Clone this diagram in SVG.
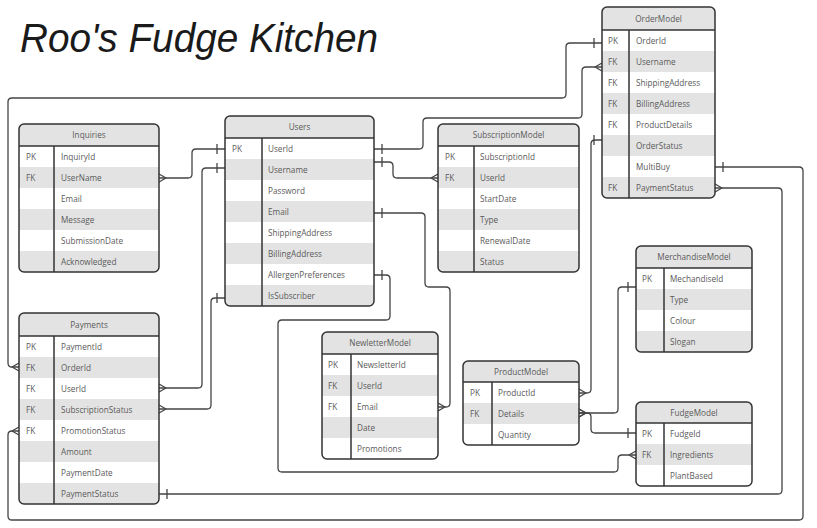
<svg xmlns="http://www.w3.org/2000/svg" width="817" height="528" viewBox="0 0 817 528">
<style>
.tb{fill:#fff;stroke:none}
.sh{fill:#e3e3e3}
.bd{fill:none;stroke:#333;stroke-width:1.5}
.ln{stroke:#333;stroke-width:1.5}
.t{font-family:"Open Sans","Noto Sans",sans-serif;font-size:8.2px;fill:#5a5a5a}
.h{font-family:"Open Sans","Noto Sans",sans-serif;font-size:8.2px;fill:#5a5a5a;text-anchor:middle}
.c{fill:none;stroke:#444;stroke-width:1.3}
.title{font-family:"Liberation Sans",sans-serif;font-style:italic;font-size:40px;fill:#1a1a1a}
</style>
<defs>
<marker id="one" viewBox="-12 -7 14 14" refX="0" refY="0" markerWidth="14" markerHeight="14" markerUnits="userSpaceOnUse" orient="auto-start-reverse">
<line x1="-8" y1="-5" x2="-8" y2="5" stroke="#444" stroke-width="1.3"/>
</marker>
<marker id="many" viewBox="-12 -7 14 14" refX="0" refY="0" markerWidth="14" markerHeight="14" markerUnits="userSpaceOnUse" orient="auto-start-reverse">
<path d="M-7,0 L0,-4 M-7,0 L0,4" fill="none" stroke="#444" stroke-width="1.3"/>
</marker>
<clipPath id="cInq"><rect x="19" y="124" width="140" height="148" rx="5"/></clipPath>
<clipPath id="cUsr"><rect x="225" y="116" width="149" height="190" rx="5"/></clipPath>
<clipPath id="cSub"><rect x="438" y="124" width="141" height="148" rx="5"/></clipPath>
<clipPath id="cOrd"><rect x="602" y="7" width="113" height="191" rx="5"/></clipPath>
<clipPath id="cPay"><rect x="19" y="313" width="140" height="191" rx="5"/></clipPath>
<clipPath id="cNew"><rect x="322" y="332" width="116" height="127" rx="5"/></clipPath>
<clipPath id="cPro"><rect x="463" y="361" width="116" height="84" rx="5"/></clipPath>
<clipPath id="cMer"><rect x="636" y="246" width="116" height="106" rx="5"/></clipPath>
<clipPath id="cFud"><rect x="636" y="402" width="116" height="84" rx="5"/></clipPath>
</defs>

<text class="title" x="20" y="52" textLength="358" lengthAdjust="spacingAndGlyphs">Roo's Fudge Kitchen</text>

<g id="connectors">
<path class="c" marker-start="url(#many)" marker-end="url(#one)" d="M159,178 H188 Q192,178 192,174 V153 Q192,149 196,149 H225"/>
<path class="c" marker-start="url(#one)" marker-end="url(#many)" d="M225,168 H206 Q202,168 202,172 V384 Q202,388 198,388 H159"/>
<path class="c" marker-start="url(#one)" marker-end="url(#many)" d="M225,298 H215 Q211,298 211,302 V405 Q211,409 207,409 H159"/>
<path class="c" marker-start="url(#one)" marker-end="url(#many)" d="M374,149 H419 Q423,149 423,145 V122 Q423,118 427,118 H578 Q582,118 582,114 V71 Q582,67 586,67 H602"/>
<path class="c" marker-start="url(#one)" marker-end="url(#many)" d="M374,162 H389 Q393,162 393,166 V174 Q393,178 397,178 H438"/>
<path class="c" marker-start="url(#one)" marker-end="url(#many)" d="M374,213 H421 Q425,213 425,217 V283 Q425,287 429,287 H446 Q450,287 450,291 V403 Q450,407 446,407 H438"/>
<path class="c" marker-start="url(#one)" marker-end="url(#many)" d="M374,275 H386 Q390,275 390,279 V316 Q390,320 386,320 H282 Q278,320 278,324 V468 Q278,472 282,472 H614 Q618,472 618,468 V459 Q618,455 622,455 H636"/>
<path class="c" marker-start="url(#one)" marker-end="url(#many)" d="M159,494 H778 Q782,494 782,490 V192 Q782,188 778,188 H715"/>
<path class="c" marker-start="url(#one)" marker-end="url(#many)" d="M715,167 H799 Q803,167 803,171 V516 Q803,520 799,520 H12 Q8,520 8,516 V435 Q8,431 12,431 H19"/>
<path class="c" marker-start="url(#many)" marker-end="url(#one)" d="M19,367 H12 Q8,367 8,363 V102 Q8,98 12,98 H562 Q566,98 566,94 V47 Q566,43 570,43 H602"/>
<path class="c" marker-start="url(#many)" marker-end="url(#one)" d="M579,393 H587 Q591,393 591,389 V144 Q591,140 595,140 H602"/>
<path class="c" marker-start="url(#many)" marker-end="url(#one)" d="M579,413 H614 Q618,413 618,409 V291 Q618,287 622,287 H636"/>
<path class="c" marker-start="url(#many)" marker-end="url(#one)" d="M579,413 H587 Q591,413 591,417 V429 Q591,433 595,433 H636"/>
</g>

<g id="inquiries">
<rect class="tb" x="19" y="124" width="140" height="148" rx="5"/>
<g clip-path="url(#cInq)">
<rect class="sh" x="19" y="124" width="140" height="22"/>
<rect class="sh" x="19" y="167" width="140" height="21"/>
<rect class="sh" x="19" y="209" width="140" height="21"/>
<rect class="sh" x="19" y="251" width="140" height="21"/>
</g>
<line class="ln" x1="19" y1="146" x2="159" y2="146"/>
<line class="ln" x1="54" y1="146" x2="54" y2="272"/>
<rect class="bd" x="19" y="124" width="140" height="148" rx="5"/>
<text class="h" x="89" y="138">Inquiries</text>
<text class="t" x="26" y="159.5">PK</text><text class="t" x="61" y="159.5">InquiryId</text>
<text class="t" x="26" y="180.5">FK</text><text class="t" x="61" y="180.5">UserName</text>
<text class="t" x="61" y="201.5">Email</text>
<text class="t" x="61" y="222.5">Message</text>
<text class="t" x="61" y="243.5">SubmissionDate</text>
<text class="t" x="61" y="264.5">Acknowledged</text>
</g>

<g id="users">
<rect class="tb" x="225" y="116" width="149" height="190" rx="5"/>
<g clip-path="url(#cUsr)">
<rect class="sh" x="225" y="116" width="149" height="22"/>
<rect class="sh" x="225" y="159" width="149" height="21"/>
<rect class="sh" x="225" y="201" width="149" height="21"/>
<rect class="sh" x="225" y="243" width="149" height="21"/>
<rect class="sh" x="225" y="285" width="149" height="21"/>
</g>
<line class="ln" x1="225" y1="138" x2="374" y2="138"/>
<line class="ln" x1="262" y1="138" x2="262" y2="306"/>
<rect class="bd" x="225" y="116" width="149" height="190" rx="5"/>
<text class="h" x="299.5" y="130">Users</text>
<text class="t" x="232" y="151.5">PK</text><text class="t" x="268" y="151.5">UserId</text>
<text class="t" x="268" y="172.5">Username</text>
<text class="t" x="268" y="193.5">Password</text>
<text class="t" x="268" y="214.5">Email</text>
<text class="t" x="268" y="235.5">ShippingAddress</text>
<text class="t" x="268" y="256.5">BillingAddress</text>
<text class="t" x="268" y="277.5">AllergenPreferences</text>
<text class="t" x="268" y="298.5">IsSubscriber</text>
</g>

<g id="subscriptionmodel">
<rect class="tb" x="438" y="124" width="141" height="148" rx="5"/>
<g clip-path="url(#cSub)">
<rect class="sh" x="438" y="124" width="141" height="22"/>
<rect class="sh" x="438" y="167" width="141" height="21"/>
<rect class="sh" x="438" y="209" width="141" height="21"/>
<rect class="sh" x="438" y="251" width="141" height="21"/>
</g>
<line class="ln" x1="438" y1="146" x2="579" y2="146"/>
<line class="ln" x1="474" y1="146" x2="474" y2="272"/>
<rect class="bd" x="438" y="124" width="141" height="148" rx="5"/>
<text class="h" x="508.5" y="138">SubscriptionModel</text>
<text class="t" x="445" y="159.5">PK</text><text class="t" x="480" y="159.5">SubscriptionId</text>
<text class="t" x="445" y="180.5">FK</text><text class="t" x="480" y="180.5">UserId</text>
<text class="t" x="480" y="201.5">StartDate</text>
<text class="t" x="480" y="222.5">Type</text>
<text class="t" x="480" y="243.5">RenewalDate</text>
<text class="t" x="480" y="264.5">Status</text>
</g>

<g id="ordermodel">
<rect class="tb" x="602" y="7" width="113" height="191" rx="5"/>
<g clip-path="url(#cOrd)">
<rect class="sh" x="602" y="7" width="113" height="23"/>
<rect class="sh" x="602" y="51" width="113" height="21"/>
<rect class="sh" x="602" y="93" width="113" height="21"/>
<rect class="sh" x="602" y="135" width="113" height="21"/>
<rect class="sh" x="602" y="177" width="113" height="21"/>
</g>
<line class="ln" x1="602" y1="30" x2="715" y2="30"/>
<line class="ln" x1="629" y1="30" x2="629" y2="198"/>
<rect class="bd" x="602" y="7" width="113" height="191" rx="5"/>
<text class="h" x="658.5" y="21.5">OrderModel</text>
<text class="t" x="608" y="43.5">PK</text><text class="t" x="636" y="43.5">OrderId</text>
<text class="t" x="608" y="64.5">FK</text><text class="t" x="636" y="64.5">Username</text>
<text class="t" x="608" y="85.5">FK</text><text class="t" x="636" y="85.5">ShippingAddress</text>
<text class="t" x="608" y="106.5">FK</text><text class="t" x="636" y="106.5">BillingAddress</text>
<text class="t" x="608" y="127.5">FK</text><text class="t" x="636" y="127.5">ProductDetails</text>
<text class="t" x="636" y="148.5">OrderStatus</text>
<text class="t" x="636" y="169.5">MultiBuy</text>
<text class="t" x="608" y="190.5">FK</text><text class="t" x="636" y="190.5">PaymentStatus</text>
</g>

<g id="payments">
<rect class="tb" x="19" y="313" width="140" height="191" rx="5"/>
<g clip-path="url(#cPay)">
<rect class="sh" x="19" y="313" width="140" height="23"/>
<rect class="sh" x="19" y="357" width="140" height="21"/>
<rect class="sh" x="19" y="399" width="140" height="21"/>
<rect class="sh" x="19" y="441" width="140" height="21"/>
<rect class="sh" x="19" y="483" width="140" height="21"/>
</g>
<line class="ln" x1="19" y1="336" x2="159" y2="336"/>
<line class="ln" x1="54" y1="336" x2="54" y2="504"/>
<rect class="bd" x="19" y="313" width="140" height="191" rx="5"/>
<text class="h" x="89" y="327.5">Payments</text>
<text class="t" x="26" y="349.5">PK</text><text class="t" x="61" y="349.5">PaymentId</text>
<text class="t" x="26" y="370.5">FK</text><text class="t" x="61" y="370.5">OrderId</text>
<text class="t" x="26" y="391.5">FK</text><text class="t" x="61" y="391.5">UserId</text>
<text class="t" x="26" y="412.5">FK</text><text class="t" x="61" y="412.5">SubscriptionStatus</text>
<text class="t" x="26" y="433.5">FK</text><text class="t" x="61" y="433.5">PromotionStatus</text>
<text class="t" x="61" y="454.5">Amount</text>
<text class="t" x="61" y="475.5">PaymentDate</text>
<text class="t" x="61" y="496.5">PaymentStatus</text>
</g>

<g id="newlettermodel">
<rect class="tb" x="322" y="332" width="116" height="127" rx="5"/>
<g clip-path="url(#cNew)">
<rect class="sh" x="322" y="332" width="116" height="22"/>
<rect class="sh" x="322" y="375" width="116" height="21"/>
<rect class="sh" x="322" y="417" width="116" height="21"/>
</g>
<line class="ln" x1="322" y1="354" x2="438" y2="354"/>
<line class="ln" x1="351" y1="354" x2="351" y2="459"/>
<rect class="bd" x="322" y="332" width="116" height="127" rx="5"/>
<text class="h" x="380" y="346">NewletterModel</text>
<text class="t" x="328" y="367.5">PK</text><text class="t" x="357" y="367.5">NewsletterId</text>
<text class="t" x="328" y="388.5">FK</text><text class="t" x="357" y="388.5">UserId</text>
<text class="t" x="328" y="409.5">FK</text><text class="t" x="357" y="409.5">Email</text>
<text class="t" x="357" y="430.5">Date</text>
<text class="t" x="357" y="451.5">Promotions</text>
</g>

<g id="productmodel">
<rect class="tb" x="463" y="361" width="116" height="84" rx="5"/>
<g clip-path="url(#cPro)">
<rect class="sh" x="463" y="361" width="116" height="21"/>
<rect class="sh" x="463" y="403" width="116" height="21"/>
</g>
<line class="ln" x1="463" y1="382" x2="579" y2="382"/>
<line class="ln" x1="492" y1="382" x2="492" y2="445"/>
<rect class="bd" x="463" y="361" width="116" height="84" rx="5"/>
<text class="h" x="521" y="374.5">ProductModel</text>
<text class="t" x="470" y="395.5">PK</text><text class="t" x="498" y="395.5">ProductId</text>
<text class="t" x="470" y="416.5">FK</text><text class="t" x="498" y="416.5">Details</text>
<text class="t" x="498" y="437.5">Quantity</text>
</g>

<g id="merchandisemodel">
<rect class="tb" x="636" y="246" width="116" height="106" rx="5"/>
<g clip-path="url(#cMer)">
<rect class="sh" x="636" y="246" width="116" height="22"/>
<rect class="sh" x="636" y="289" width="116" height="21"/>
<rect class="sh" x="636" y="331" width="116" height="21"/>
</g>
<line class="ln" x1="636" y1="268" x2="752" y2="268"/>
<line class="ln" x1="664" y1="268" x2="664" y2="352"/>
<rect class="bd" x="636" y="246" width="116" height="106" rx="5"/>
<text class="h" x="694" y="260">MerchandiseModel</text>
<text class="t" x="642" y="281.5">PK</text><text class="t" x="670" y="281.5">MechandiseId</text>
<text class="t" x="670" y="302.5">Type</text>
<text class="t" x="670" y="323.5">Colour</text>
<text class="t" x="670" y="344.5">Slogan</text>
</g>

<g id="fudgemodel">
<rect class="tb" x="636" y="402" width="116" height="84" rx="5"/>
<g clip-path="url(#cFud)">
<rect class="sh" x="636" y="402" width="116" height="21"/>
<rect class="sh" x="636" y="444" width="116" height="21"/>
</g>
<line class="ln" x1="636" y1="423" x2="752" y2="423"/>
<line class="ln" x1="664" y1="423" x2="664" y2="486"/>
<rect class="bd" x="636" y="402" width="116" height="84" rx="5"/>
<text class="h" x="694" y="415.5">FudgeModel</text>
<text class="t" x="642" y="436.5">PK</text><text class="t" x="670" y="436.5">FudgeId</text>
<text class="t" x="642" y="457.5">FK</text><text class="t" x="670" y="457.5">Ingredients</text>
<text class="t" x="670" y="478.5">PlantBased</text>
</g>
</svg>
